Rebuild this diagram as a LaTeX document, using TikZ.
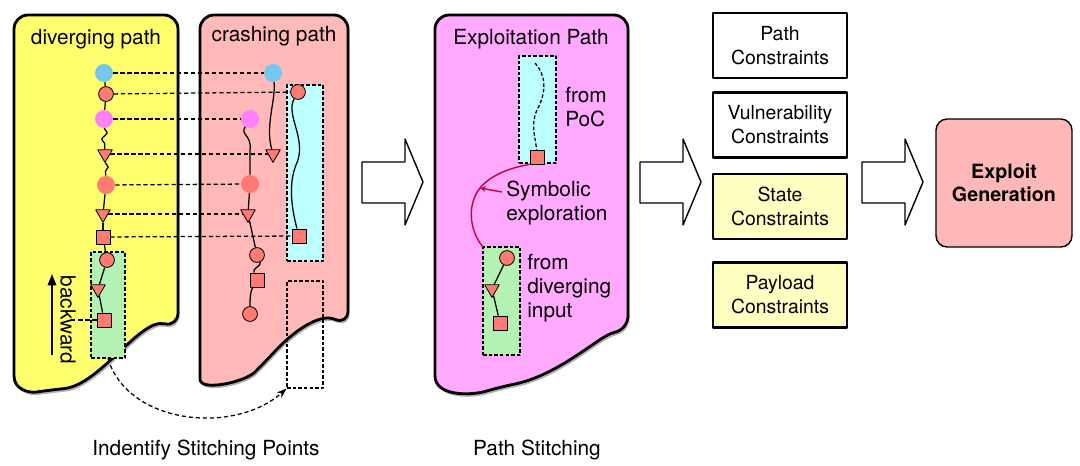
\documentclass[tikz,border=0pt]{standalone}
\usepackage{fontspec}
\setmainfont{TeX Gyre Heros}
\usetikzlibrary{calc,fit,shapes.geometric,decorations.pathmorphing,arrows.meta}

\definecolor{divyellow}{HTML}{FFFF6E}
\definecolor{crashpink}{HTML}{FFB9B9}
\definecolor{exppink}{HTML}{FFAAFF}
\definecolor{boxcyan}{HTML}{BBFFFF}
\definecolor{boxgreen}{HTML}{B4F2B4}
\definecolor{dotred}{HTML}{FF7B72}
\definecolor{dotblue}{HTML}{72C8F2}
\definecolor{dotmag}{HTML}{FF80FF}
\definecolor{symred}{HTML}{C8003C}
\definecolor{cstrfill}{HTML}{FFFFC2}
\definecolor{genpink}{HTML}{FFB8B8}

\tikzset{
  docline/.style={line width=2pt, rounded corners=10pt},
  docshadow/.style={fill=black!30, rounded corners=10pt, shift={(1.5,3)}},
  stitch/.style={line width=0.9pt, dash pattern=on 3pt off 2pt},
  pathline/.style={line width=0.9pt},
  wiggle/.style={pathline, decorate, decoration={snake, segment length=0.34cm, amplitude=0.07cm}},
  zone/.style={draw, line width=0.8pt, dash pattern=on 2.5pt off 1.5pt, inner sep=0},
  dotb/.style={circle, inner sep=0, minimum size=0.45cm},
  ring/.style={circle, draw, line width=0.6pt, fill=dotred, inner sep=0, minimum size=0.37cm},
  tri/.style={regular polygon, regular polygon sides=3, shape border rotate=180, draw, line width=0.6pt, fill=dotred, inner sep=0, minimum size=0.42cm},
  sq/.style={rectangle, draw, line width=0.6pt, fill=dotred, inner sep=0, minimum size=0.35cm},
  bigarr/.style={line width=1pt, fill=white},
  cstr/.style={draw, line width=1.6pt, minimum width=3.35cm, minimum height=1.62cm, align=center, font=\fontsize{13.8}{17}\selectfont},
  gen/.style={draw, line width=1pt, fill=genpink, rounded corners=8pt, minimum width=3.4cm, minimum height=3.2cm, align=center, font=\fontsize{14}{16.5}\selectfont\bfseries},
  symline/.style={symred, line width=1pt},
  note/.style={align=left, anchor=west, inner sep=0}
}

% document outlines and the block arrow
\def\divdoc{(100,15) -- (178,15) -- (178,327) .. controls (140,318) and (100,385) .. (50,390) .. controls (30,393) and (14,390) .. (14,362) -- (14,15) -- cycle}
\def\crashdoc{(270,15) -- (348,15) -- (348,325) .. controls (318,312) and (290,335) .. (265,362) .. controls (245,382) and (200,392) .. (200,365) -- (200,15) -- cycle}
\def\expdoc{(530,15) -- (628,15) -- (628,330) .. controls (600,335) and (560,375) .. (500,387) .. controls (470,396) and (435,396) .. (435,362) -- (435,15) -- cycle}
\def\bigarrow(#1){\draw[bigarr] (#1,162) -- ++(43,0) -- ++(0,-23) -- ++(18,43) -- ++(-18,43) -- ++(0,-22) -- ++(-43,0) -- cycle;}

\begin{document}
\begin{tikzpicture}[x=0.025cm, y=-0.025cm, font=\fontsize{14.8}{17}\selectfont, line join=round]
\useasboundingbox (0,0) rectangle (1080,466);

% documents
\fill[docshadow] \divdoc;
\draw[docline, fill=divyellow] \divdoc;
\fill[docshadow] \crashdoc;
\draw[docline, fill=crashpink] \crashdoc;
\fill[docshadow] \expdoc;
\draw[docline, fill=exppink] \expdoc;

% dashed zones
\node[zone, fill=boxgreen, fit={(91,252) (125,358)}] (divzone) {};
\node[zone, fill=boxcyan, fit={(287,85) (323,261)}] (crashzone) {};
\node[zone, fit={(287,281) (323,388)}] (gapzone) {};
\node[zone, fill=boxcyan, fit={(519,56) (556,163)}] (poczone) {};
\node[zone, fill=boxgreen, fit={(483,247) (520,355)}] (inzone) {};

% block arrows
\bigarrow(362)
\bigarrow(640)
\bigarrow(862)

% constraints and generation
\node[cstr] (pathc) at (780,45.5) {Path\\Constraints};
\node[cstr] (vulnc) at (780,125) {Vulnerability\\Constraints};
\node[cstr, fill=cstrfill] (statec) at (780,206.5) {State\\Constraints};
\node[cstr, fill=cstrfill] (payc) at (780,295) {Payload\\Constraints};
\node[gen] (gen) at (1004,183) {Exploit\\Generation};

% titles
\node[anchor=base] (divtitle) at (96,45) {diverging path};
\node[anchor=base] (crashtitle) at (274,42) {crashing path};
\node[anchor=base] (exptitle) at (531,45) {Exploitation Path};
\node[anchor=base] (stitchpts) at (206,455) {Indentify Stitching Points};
\node[anchor=base] (stitching) at (537,455) {Path Stitching};
\node[note] (poclabel) at (565,107) {from\\PoC};
\node[note] (inlabel) at (527,288) {from\\diverging\\input};
\node[note] (symlabel) at (506,203) {Symbolic\\exploration};
\node[rotate=-90] (bwlabel) at (68,320) {backward};

% diverging path
\node[dotb, fill=dotblue] (d1) at (104,73) {};
\node[ring] (d2) at (106,94) {};
\node[dotb, fill=dotmag] (d3) at (104,119) {};
\node[tri] (d4) at (105,154) {};
\node[dotb, fill=dotred] (d5) at (106,185) {};
\node[tri] (d6) at (103,214) {};
\node[sq] (d7) at (103,237) {};
\node[ring] (d8) at (107,260) {};
\node[tri] (d9) at (98,289) {};
\node[sq] (d10) at (104,320) {};

% crashing path
\node[dotb, fill=dotblue] (c1) at (273,73) {};
\node[ring] (c2) at (298,92) {};
\node[dotb, fill=dotmag] (c3) at (250,119) {};
\node[tri] (c4) at (273,154) {};
\node[dotb, fill=dotred] (c5) at (250,184) {};
\node[tri] (c6) at (248,214) {};
\node[sq] (c7) at (299,236) {};
\node[ring] (c8) at (257,255) {};
\node[sq] (c9) at (257,280) {};
\node[ring] (c10) at (250,314) {};

% exploitation path
\node[sq] (e1) at (537,157) {};
\node[ring] (e2) at (507,258) {};
\node[tri] (e3) at (492,289) {};
\node[sq] (e4) at (500,323) {};

\coordinate (stub) at (70,320);
\coordinate (bwfoot) at (52,355);
\coordinate (bwhead) at (52,274);
\coordinate (pocstart) at (535,63);
\coordinate (symtip) at (480,188);

% stitching lines
\draw[stitch] (d1) -- (c1);
\draw[stitch] (d2) -- (c2);
\draw[stitch] (d3) -- (c3);
\draw[stitch] (d4) -- (c4);
\draw[stitch] (d5) -- (c5);
\draw[stitch] (d6) -- (c6);
\draw[stitch] (d7) -- (c7);
\draw[stitch] (d10) -- (stub);
\draw[stitch, -{Stealth[length=7pt, width=5pt]}] (divzone.south) .. controls (128,425) and (235,435) .. (gapzone.south west);

% path edges
\draw[pathline] (d1) -- (d2);
\draw[pathline] (d2) -- (d3);
\draw[wiggle] (d3) -- (d4);
\draw[wiggle] (d4) -- (d5);
\draw[pathline] (d5) -- (d6);
\draw[pathline] (d6) -- (d7);
\draw[pathline] (d7) -- (d8);
\draw[pathline] (d8) -- (d9);
\draw[pathline] (d9) -- (d10);

\draw[pathline] (c1) .. controls (276,100) and (265,125) .. (c4);
\draw[pathline] (c3) .. controls (240,135) and (252,135) .. (250,150) -- (c5);
\draw[pathline] (c5) -- (c6);
\draw[pathline] (c6) -- (c8);
\draw[pathline] (c8) .. controls (262,266) and (252,268) .. (c9);
\draw[pathline] (c9) .. controls (250,292) and (250,300) .. (c10);
\draw[pathline] (c2) .. controls (285,115) and (308,140) .. (296,165) .. controls (288,185) and (292,210) .. (c7);

\draw[pathline, dash pattern=on 2.5pt off 1.5pt] (pocstart) .. controls (548,78) and (545,95) .. (537,110) .. controls (530,125) and (536,140) .. (e1);
\draw[pathline] (e2) -- (e3);
\draw[pathline] (e3) -- (e4);
\draw[symline] (e1.south west) .. controls (508,168) and (490,176) .. (symtip) .. controls (468,203) and (468,228) .. (inzone.north west);
\draw[symline, -{Stealth[open, length=4pt, width=4pt]}] ($(symlabel.west)+(-4,-11)$) -- (symtip);

% backward arrow
\draw[line width=1.2pt, -{Triangle[length=8pt, width=6pt]}] (bwfoot) -- (bwhead);
\end{tikzpicture}
\end{document}
